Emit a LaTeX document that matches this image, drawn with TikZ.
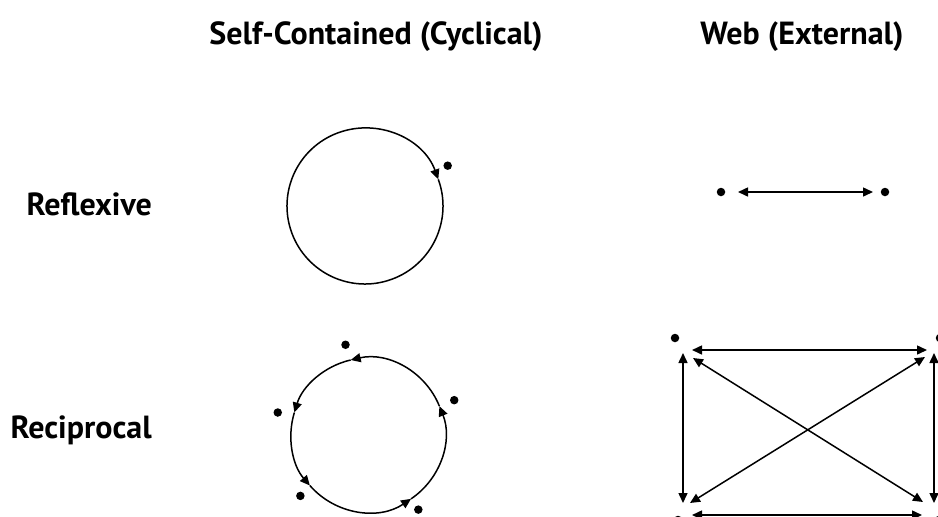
\documentclass[tikz,border=0pt]{standalone}
\usepackage{fontspec}
\setmainfont{PT Sans}
\usepackage{tikz}
\usetikzlibrary{arrows.meta,positioning,calc}

\begin{document}
\begin{tikzpicture}[x=1pt,y=-1pt,>={Triangle[length=10pt,width=9pt]},
  every node/.style={font=\fontsize{32}{36}\selectfont\bfseries},
  agent/.style={circle,fill=black,inner sep=0pt,minimum size=8.5pt},
  link/.style={line width=1.5pt}]
  \useasboundingbox (0,0) rectangle (938,517);
  \clip (0,0) rectangle (938,517);
  \node (selfhead) at (376,37) {Self-Contained (Cyclical)};
  \node (webhead) at (802,37) {Web (External)};
  \node[anchor=west] (reflexive) at (23,204) {Reflexive};
  \node[anchor=west] (reciprocal) at (7,430) {Reciprocal};
  \coordinate (loopA) at (365,206);
  \draw[link,->] (loopA) ++(-380:78) arc[start angle=-380,end angle=-20,radius=78];
  \node[agent] (selfa) at ($(loopA)+(-26:92)$) {};
  \coordinate (loopB) at (368,435);
  \draw[link,->] (loopB) ++(56:77) arc[start angle=56,end angle=-22,radius=77];
  \draw[link,->] (loopB) ++(-22:77) arc[start angle=-22,end angle=-103,radius=77];
  \draw[link,->] (loopB) ++(-103:77) arc[start angle=-103,end angle=-163,radius=77];
  \draw[link,->] (loopB) ++(-163:77) arc[start angle=-163,end angle=-221,radius=77];
  \draw[link,->] (loopB) ++(-221:77) arc[start angle=-221,end angle=-304,radius=77];
  \node[agent] (recipa) at ($(loopB)+(-22:93)$) {};
  \node[agent] (recipb) at ($(loopB)+(-104:93)$) {};
  \node[agent] (recipc) at ($(loopB)+(-166:93)$) {};
  \node[agent] (recipd) at ($(loopB)+(-222:91)$) {};
  \node[agent] (recipe) at ($(loopB)+(-304:90)$) {};
  \node[agent] (webl) at (721,192) {};
  \node[agent] (webr) at (885,192) {};
  \draw[link,<->] ([xshift=17]webl.center) -- ([xshift=-12]webr.center);
  \coordinate (tl) at (683,350);
  \coordinate (tr) at (934,350);
  \coordinate (bl) at (683,515);
  \coordinate (br) at (934,515);
  \node[agent] (dottl) at (675,338) {};
  \node[agent] (dottr) at (940,338) {};
  \node[agent] (dotbl) at (678,520) {};
  \node[agent] (dotbr) at (939,520) {};
  \draw[link,<->] ([xshift=9]tl) -- ([xshift=-7]tr);
  \draw[link,<->] ([xshift=9]bl) -- ([xshift=-12]br);
  \draw[link,<->] ([yshift=-3]tl) -- ([yshift=12]bl);
  \draw[link,<->] ([yshift=-3]tr) -- ([yshift=12]br);
  \draw[link,<->] ([shift={(10,8)}]tl) -- ([shift={(-11,-13)}]br);
  \draw[link,<->] ([shift={(-9,7)}]tr) -- ([shift={(7,-12)}]bl);
\end{tikzpicture}
\end{document}
